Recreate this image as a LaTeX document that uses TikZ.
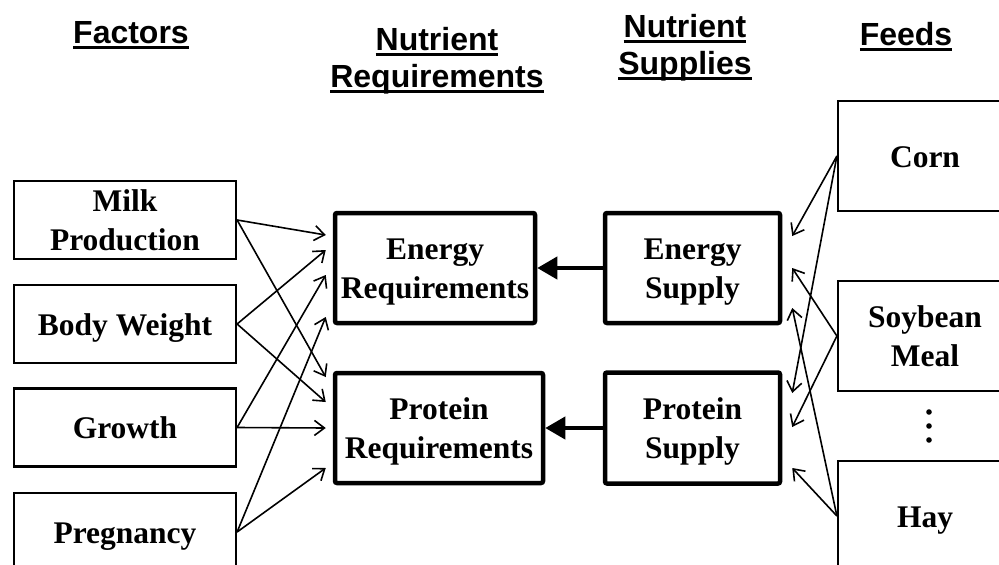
\documentclass[tikz,border=0pt]{standalone}
\usepackage{fontspec}
\setmainfont{Liberation Serif}
\newfontfamily\hdfont{Liberation Sans}
\usetikzlibrary{arrows.meta,calc}
\newcommand\hul[1]{\setbox0=\hbox{#1}\rlap{\rule[-6pt]{\wd0}{2.8pt}}\box0}
\newcommand\twol[2]{\begin{tabular}[t]{@{}c@{}}#1\\#2\end{tabular}}
\tikzset{
  boxtext/.style={font=\fontsize{31.5}{39.5}\selectfont\bfseries, inner sep=2pt},
  oneline/.style={text height=22pt, text depth=0pt},
  twoline/.style={text height=10pt, text depth=28pt},
  thinbox/.style={boxtext, draw, line width=2.2pt},
  thickbox/.style={boxtext, draw, line width=4.5pt, rounded corners=2pt},
  hdr/.style={font=\fontsize{32}{37}\selectfont\hdfont\bfseries, anchor=base, inner sep=0pt},
  thinarr/.style={line width=1.6pt, -{Straight Barb[length=10pt,width=15pt]}},
  thickarr/.style={line width=4pt, -{Triangle[length=20pt,width=22pt]}}
}
\begin{document}
\begin{tikzpicture}[x=1pt,y=-1pt]
\useasboundingbox (0,0) rectangle (999,565);
\clip (0,0) rectangle (999,565);
% headers
\node[hdr] (h1) at (131,43) {\hul{Factors}};
\node[hdr] (h2) at (437,50) {\twol{\hul{Nutrient}}{\hul{Requirements}}};
\node[hdr] (h3) at (685,37) {\twol{\hul{Nutrient}}{\hul{Supplies}}};
\node[hdr] (h4) at (906,45) {\hul{Feeds}};
% factor boxes
\node[thinbox, twoline, minimum width=222pt, minimum height=78pt] (f1) at (125,220) {\twol{Milk}{Production}};
\node[thinbox, oneline, minimum width=222pt, minimum height=78pt] (f2) at (125,324) {Body Weight};
\node[thinbox, oneline, minimum width=222pt, minimum height=78pt] (f3) at (125,427.5) {Growth};
\node[thinbox, oneline, minimum width=222pt, minimum height=78pt] (f4) at (125,532) {Pregnancy};
% requirement boxes
\node[thickbox, twoline, minimum width=200pt, minimum height=110pt] (er) at (435,268) {\twol{Energy}{Requirements}};
\node[thickbox, twoline, minimum width=208pt, minimum height=110pt] (pr) at (439,428) {\twol{Protein}{Requirements}};
% supply boxes
\node[thickbox, twoline, minimum width=175pt, minimum height=110pt] (es) at (692.5,268) {\twol{Energy}{Supply}};
\node[thickbox, twoline, minimum width=175pt, minimum height=111pt] (ps) at (692.5,428) {\twol{Protein}{Supply}};
% feed boxes
\node[thinbox, oneline, minimum width=174pt, minimum height=110pt] (corn) at (925,156) {Corn};
\node[thinbox, twoline, minimum width=174pt, minimum height=110pt] (soy) at (925,336) {\twol{Soybean}{Meal}};
\node[thinbox, oneline, minimum width=174pt, minimum height=110pt] (hay) at (925,516) {Hay};
% dots
\fill (929,412) circle[radius=2.8pt];
\fill (929,426) circle[radius=2.8pt];
\fill (929,440) circle[radius=2.8pt];
% factor arrows
\draw[thinarr] (f1.east) -- ($(er.west)+(-7,-33)$);
\draw[thinarr] (f1.east) -- ($(pr.west)+(-7,-51)$);
\draw[thinarr] (f2.east) -- ($(er.west)+(-7,-18)$);
\draw[thinarr] (f2.east) -- ($(pr.west)+(-7,-26)$);
\draw[thinarr] (f3.east) -- ($(er.west)+(-7,7)$);
\draw[thinarr] (f3.east) -- ($(pr.west)+(-7,0)$);
\draw[thinarr] (f4.east) -- ($(er.west)+(-7,49)$);
\draw[thinarr] (f4.east) -- ($(pr.west)+(-7,40)$);
% feed arrows
\draw[thinarr] (corn.west) -- ($(es.east)+(10,-32)$);
\draw[thinarr] (corn.west) -- ($(ps.east)+(10,-35)$);
\draw[thinarr] (soy.west) -- ($(es.east)+(10,0)$);
\draw[thinarr] (soy.west) -- ($(ps.east)+(10,-1)$);
\draw[thinarr] (hay.west) -- ($(es.east)+(10,40)$);
\draw[thinarr] (hay.west) -- ($(ps.east)+(10,40)$);
% supply to requirement
\draw[thickarr] (es.west) -- (er.east);
\draw[thickarr] (ps.west) -- (pr.east);
\end{tikzpicture}
\end{document}
